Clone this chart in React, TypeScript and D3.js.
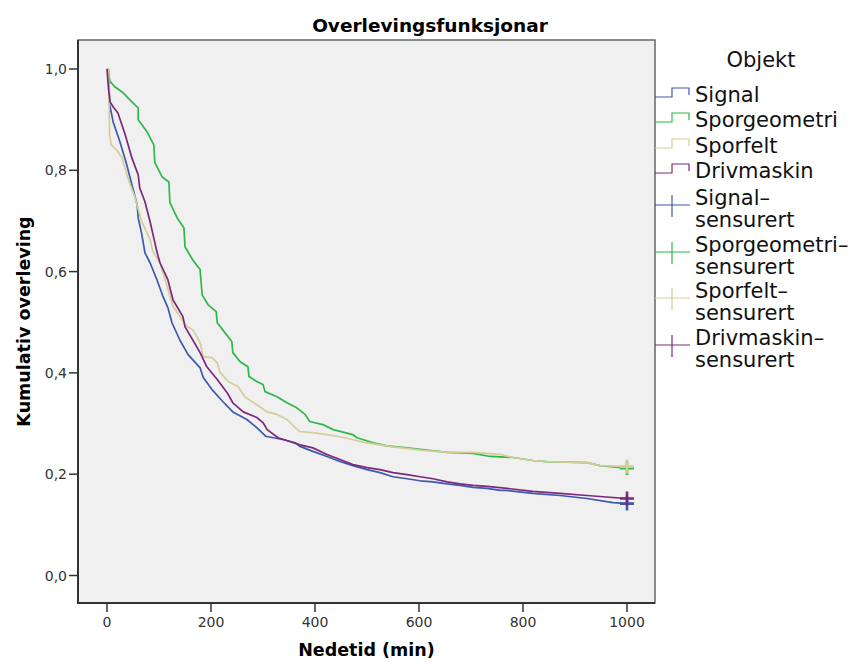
import * as React from "react"
import * as d3 from "d3"

type Point = [number, number]

// Kaplan-Meier curves: [nedetid (min), kumulativ overleving]
const objekt = ["Signal", "Sporgeometri", "Sporfelt", "Drivmaskin"]
const colors = ["#3e58ac", "#2eb848", "#d3ce97", "#7c287d"]

const signal: Point[] = [
  [0, 1.0], [3, 1.0], [5, 0.93], [12, 0.895], [25, 0.856], [38, 0.811], [48, 0.771],
  [58, 0.732], [60, 0.706], [67, 0.673], [73, 0.637], [83, 0.617], [96, 0.584],
  [108, 0.55], [117, 0.529], [125, 0.499], [140, 0.465], [156, 0.436], [179, 0.41],
  [185, 0.391], [202, 0.367], [223, 0.343], [242, 0.323], [269, 0.308], [288, 0.292],
  [305, 0.275], [340, 0.268], [362, 0.262], [371, 0.255], [396, 0.245], [423, 0.235],
  [448, 0.225], [473, 0.217], [500, 0.209], [525, 0.203], [550, 0.195], [577, 0.191],
  [602, 0.187], [627, 0.185], [654, 0.181], [679, 0.178], [704, 0.174], [731, 0.172],
  [756, 0.168], [769, 0.168], [819, 0.162], [871, 0.158], [923, 0.152], [973, 0.144],
  [1000, 0.142],
]

const sporgeometri: Point[] = [
  [0, 1.0], [1, 0.998], [6, 0.975], [15, 0.965], [31, 0.953], [48, 0.935], [60, 0.923],
  [60, 0.9], [77, 0.876], [90, 0.85], [92, 0.815], [106, 0.787], [119, 0.777], [121, 0.736],
  [135, 0.706], [148, 0.686], [150, 0.649], [165, 0.623], [179, 0.604], [183, 0.554],
  [194, 0.535], [210, 0.521], [212, 0.499], [227, 0.479], [240, 0.462], [242, 0.44],
  [256, 0.422], [271, 0.412], [273, 0.393], [288, 0.383], [300, 0.377], [304, 0.363],
  [327, 0.353], [346, 0.341], [365, 0.331], [381, 0.318], [390, 0.304], [415, 0.298],
  [435, 0.288], [473, 0.278], [481, 0.272], [512, 0.262], [538, 0.256], [577, 0.252],
  [602, 0.249], [654, 0.243], [704, 0.241], [737, 0.235], [781, 0.233], [819, 0.227],
  [846, 0.225], [923, 0.223], [948, 0.217], [1000, 0.212],
]

const sporfelt: Point[] = [
  [0, 1.0], [3, 1.0], [5, 0.87], [8, 0.85], [19, 0.84], [29, 0.824], [40, 0.785],
  [54, 0.746], [67, 0.698], [83, 0.663], [88, 0.64], [102, 0.617], [112, 0.584],
  [127, 0.531], [154, 0.491], [165, 0.485], [179, 0.46], [185, 0.432], [202, 0.43],
  [212, 0.42], [217, 0.402], [233, 0.383], [252, 0.373], [265, 0.353], [288, 0.337],
  [308, 0.323], [327, 0.318], [346, 0.308], [362, 0.292], [371, 0.284], [396, 0.282],
  [423, 0.278], [448, 0.274], [473, 0.268], [500, 0.262], [525, 0.258], [550, 0.254],
  [583, 0.25], [608, 0.247], [654, 0.243], [704, 0.243], [756, 0.239], [781, 0.233],
  [819, 0.227], [846, 0.225], [923, 0.223], [948, 0.217], [1000, 0.215],
]

const drivmaskin: Point[] = [
  [0, 1.0], [3, 0.96], [6, 0.935], [12, 0.925], [21, 0.913], [35, 0.87], [48, 0.824],
  [60, 0.791], [63, 0.765], [73, 0.738], [83, 0.698], [96, 0.639], [102, 0.617],
  [117, 0.584], [127, 0.544], [146, 0.511], [150, 0.491], [165, 0.465], [179, 0.44],
  [192, 0.412], [212, 0.387], [231, 0.361], [242, 0.341], [262, 0.323], [288, 0.312],
  [300, 0.302], [308, 0.288], [329, 0.272], [350, 0.265], [371, 0.258], [396, 0.252],
  [423, 0.239], [448, 0.229], [473, 0.219], [500, 0.213], [525, 0.209], [550, 0.203],
  [577, 0.199], [602, 0.195], [627, 0.191], [654, 0.185], [679, 0.181], [704, 0.178],
  [731, 0.176], [769, 0.172], [819, 0.166], [871, 0.162], [923, 0.158], [973, 0.154],
  [1000, 0.152],
]

const series = [signal, sporgeometri, sporfelt, drivmaskin]

const xTicks = [0, 200, 400, 600, 800, 1000]
const yTicks = [0, 0.2, 0.4, 0.6, 0.8, 1.0]

const font = "'DejaVu Sans', sans-serif"

export default function App() {
  const svgRef = React.useRef<SVGSVGElement>(null)
  const width = 860
  const height = 662

  React.useEffect(() => {
    if (!svgRef.current) return
    const svg = d3.select(svgRef.current)
    svg.selectAll("*").remove()

    // plot frame
    const frame = { left: 78, top: 40, right: 655, bottom: 603 }

    const x = d3.scaleLinear().domain([0, 1000]).range([107, 627])
    const y = d3.scaleLinear().domain([0, 1]).range([575.5, 69])

    svg
      .append("rect")
      .attr("x", frame.left)
      .attr("y", frame.top)
      .attr("width", frame.right - frame.left)
      .attr("height", frame.bottom - frame.top)
      .attr("fill", "#f0f0f0")
      .attr("stroke", "#666")
      .attr("stroke-width", 1.5)

    // left and bottom edges are darker
    svg
      .append("path")
      .attr("d", `M${frame.left},${frame.top}V${frame.bottom}H${frame.right}`)
      .attr("fill", "none")
      .attr("stroke", "#333")
      .attr("stroke-width", 2)

    svg
      .append("clipPath")
      .attr("id", "plot-clip")
      .append("rect")
      .attr("x", frame.left + 1)
      .attr("y", frame.top + 1)
      .attr("width", frame.right - frame.left - 2)
      .attr("height", frame.bottom - frame.top - 2)

    // y axis
    const yAxis = svg.append("g")
    yAxis
      .selectAll("line")
      .data(yTicks)
      .enter()
      .append("line")
      .attr("x1", frame.left - 9)
      .attr("x2", frame.left)
      .attr("y1", (d) => y(d))
      .attr("y2", (d) => y(d))
      .attr("stroke", "#333")
      .attr("stroke-width", 1.5)
    yAxis
      .selectAll("text")
      .data(yTicks)
      .enter()
      .append("text")
      .attr("x", frame.left - 11)
      .attr("y", (d) => y(d))
      .attr("dy", "0.36em")
      .attr("text-anchor", "end")
      .style("font-family", font)
      .style("font-size", "14px")
      .style("fill", "#333")
      .text((d) => d3.format(".1f")(d).replace(".", ","))

    // x axis
    const xAxis = svg.append("g")
    xAxis
      .selectAll("line")
      .data(xTicks)
      .enter()
      .append("line")
      .attr("x1", (d) => x(d))
      .attr("x2", (d) => x(d))
      .attr("y1", frame.bottom)
      .attr("y2", frame.bottom + 9)
      .attr("stroke", "#333")
      .attr("stroke-width", 1.5)
    xAxis
      .selectAll("text")
      .data(xTicks)
      .enter()
      .append("text")
      .attr("x", (d) => x(d))
      .attr("y", 627)
      .attr("text-anchor", "middle")
      .style("font-family", font)
      .style("font-size", "14px")
      .style("fill", "#333")
      .text((d) => String(d))

    // curves
    const line = d3
      .line<Point>()
      .x((d) => x(d[0]))
      .y((d) => y(d[1]))

    const curves = svg.append("g").attr("clip-path", "url(#plot-clip)")
    series.forEach((s, i) => {
      curves
        .append("path")
        .attr("d", line(s))
        .attr("fill", "none")
        .attr("stroke", colors[i])
        .attr("stroke-width", 1.7)
        .attr("stroke-linejoin", "round")
    })

    // censored markers at the end of follow-up
    series.forEach((s, i) => {
      const [t, v] = s[s.length - 1]
      const cx = x(t)
      const cy = y(v)
      curves
        .append("path")
        .attr("d", `M${cx - 7},${cy}H${cx + 7}M${cx},${cy - 7}V${cy + 7}`)
        .attr("stroke", colors[i])
        .attr("stroke-width", 2.6)
    })

    // titles
    svg
      .append("text")
      .attr("x", 430)
      .attr("y", 32)
      .attr("text-anchor", "middle")
      .style("font-family", font)
      .style("font-weight", "bold")
      .style("font-size", "18.5px")
      .style("fill", "#000")
      .text("Overlevingsfunksjonar")

    svg
      .append("text")
      .attr("x", (frame.left + frame.right) / 2)
      .attr("y", 656)
      .attr("text-anchor", "middle")
      .style("font-family", font)
      .style("font-weight", "bold")
      .style("font-size", "17.5px")
      .style("fill", "#000")
      .text("Nedetid (min)")

    svg
      .append("text")
      .attr("transform", `translate(30,${(frame.top + frame.bottom) / 2}) rotate(-90)`)
      .attr("text-anchor", "middle")
      .style("font-family", font)
      .style("font-weight", "bold")
      .style("font-size", "17.5px")
      .style("fill", "#000")
      .text("Kumulativ overleving")

    // legend
    const legend = svg.append("g")
    const legendText = (tx: number, ty: number, label: string, anchor = "start") =>
      legend
        .append("text")
        .attr("x", tx)
        .attr("y", ty)
        .attr("text-anchor", anchor)
        .style("font-family", font)
        .style("font-size", "21px")
        .style("fill", "#111")
        .text(label)

    legendText(761, 67, "Objekt", "middle")

    const stepRows = [102, 127, 153, 178]
    objekt.forEach((name, i) => {
      const by = stepRows[i]
      legend
        .append("path")
        .attr("d", `M655,${by - 5}H672V${by - 14}H689V${by - 7}`)
        .attr("fill", "none")
        .attr("stroke", colors[i])
        .attr("stroke-width", 1.2)
      legendText(695, by, name)
    })

    const censorRows = [205, 252, 298, 345]
    objekt.forEach((name, i) => {
      const by = censorRows[i]
      legend
        .append("path")
        .attr("d", `M655,${by}H690M672,${by - 10}V${by + 12}`)
        .attr("fill", "none")
        .attr("stroke", colors[i])
        .attr("stroke-width", 1.2)
      legendText(695, by, `${name}–`)
      legendText(695, by + 22, "sensurert")
    })

    return () => {
      svg.selectAll("*").remove()
    }
  }, [])

  return (
    <svg
      ref={svgRef}
      width={width}
      height={height}
      viewBox={`0 0 ${width} ${height}`}
      style={{ position: "absolute", left: 0, top: 0, background: "#fff" }}
    />
  )
}
